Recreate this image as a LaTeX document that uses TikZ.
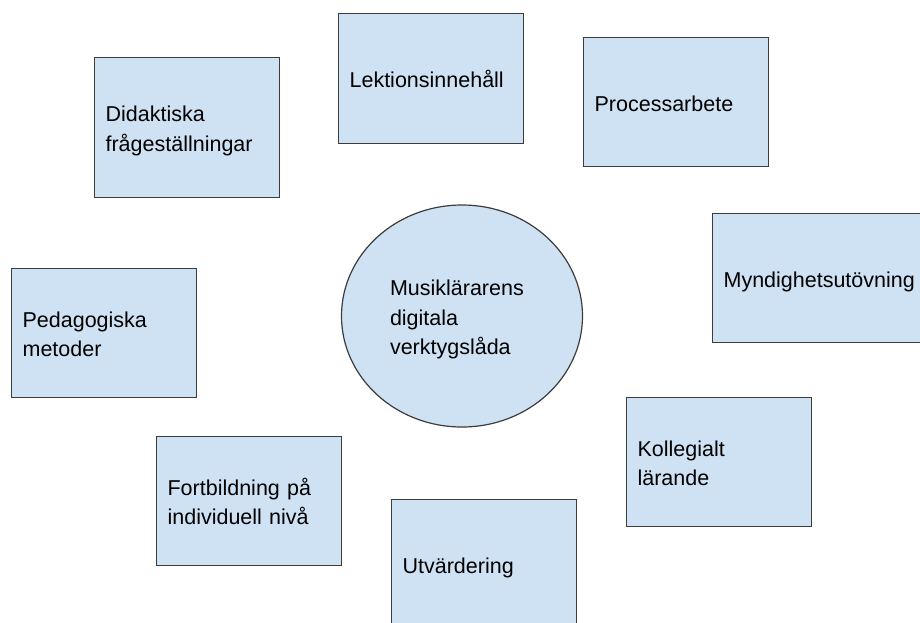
\documentclass[tikz,border=0pt]{standalone}
\usepackage{fontspec}
\setmainfont{Liberation Sans}
\usetikzlibrary{shapes.geometric}

\definecolor{boxblue}{HTML}{CFE2F3}
\definecolor{boxline}{HTML}{3C3C3C}
\newcommand{\linestrut}{\rule[-4.5pt]{0pt}{27pt}}

\tikzset{
    topic/.style={rectangle, draw=boxline, line width=1.2pt, fill=boxblue, anchor=north west, text=black,
        minimum width=185pt, minimum height=129pt, inner xsep=11pt, inner ysep=0pt, text width=163pt, align=left,
        font=\fontsize{21.5}{29.5}\selectfont, execute at begin node=\linestrut, execute at end node=\linestrut},
    hub/.style={ellipse, draw=boxline, line width=1.2pt, fill=boxblue, text=black,
        minimum width=241pt, minimum height=222pt, inner sep=0pt, text width=144pt, align=left,
        font=\fontsize{21.5}{29.5}\selectfont, execute at begin node=\linestrut, execute at end node=\linestrut}
}

\begin{document}
\begin{tikzpicture}[x=1pt, y=-1pt]
    \useasboundingbox (0,0) rectangle (920,622);
    \clip (0,0) rectangle (920,622);

    \node (Verktygslada) [hub] at (462,316) {
        Musiklärarens\\digitala\\verktygslåda
    };

    \node (Didaktiska) [topic, minimum height=140pt] at (94,57) {
        Didaktiska\\frågeställningar
    };

    \node (Lektionsinnehall) [topic, minimum height=130pt] at (338,13) {
        Lektionsinnehåll
    };

    \node (Processarbete) [topic] at (583,37) {
        Processarbete
    };

    \node (Myndighetsutovning) [topic, minimum width=222pt, text width=200pt] at (712,213) {
        Myndighetsutövning
    };

    \node (PedagogiskaMetoder) [topic] at (11,268) {
        Pedagogiska\\metoder
    };

    \node (KollegialtLarande) [topic] at (626,397) {
        Kollegialt\\lärande
    };

    \node (Fortbildning) [topic] at (156,436) {
        Fortbildning på\\individuell nivå
    };

    \node (Utvardering) [topic] at (391,499) {
        Utvärdering
    };
\end{tikzpicture}
\end{document}
